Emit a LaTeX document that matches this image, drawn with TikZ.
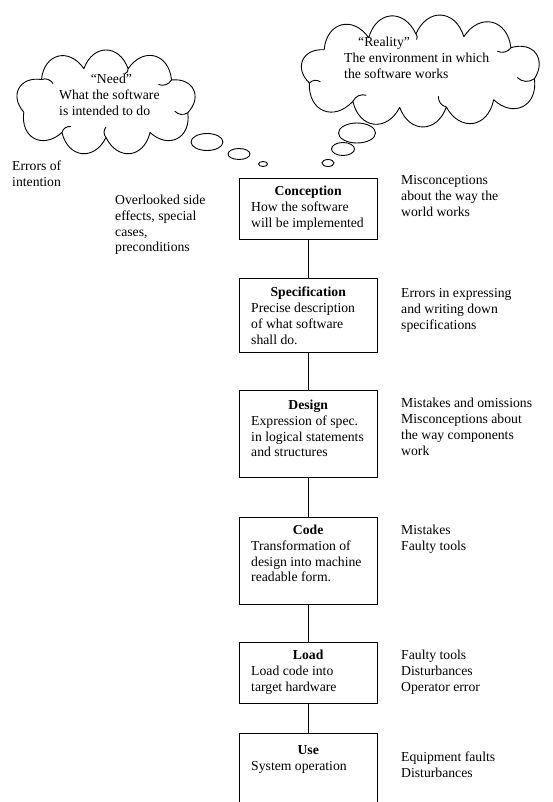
\documentclass[tikz,border=0pt]{standalone}
\usepackage{fontspec}
\setmainfont{Liberation Serif}
\usetikzlibrary{shapes.geometric,calc}
\newcommand\fs{\fontsize{13.7}{15.9}\selectfont}
\begin{document}
\begin{tikzpicture}[x=1pt,y=-1pt,
  stepbox/.style={draw, line width=0.9pt, minimum width=138pt, inner sep=0pt, anchor=north},
  boxtext/.style={font=\fs, align=left, inner sep=0pt, anchor=north west},
  note/.style={font=\fs, align=left, inner sep=0pt, anchor=north west},
  cloudline/.style={line width=0.9pt, line join=round},
  bubble/.style={draw, ellipse, line width=0.9pt, inner sep=0pt},
  link/.style={line width=0.9pt}]
\useasboundingbox (0,0) rectangle (552,802);
\clip (0,0) rectangle (552,802);

% "Need" cloud
\coordinate (NO) at (106,102.5);
\foreach \k/\t in {1/17,2/59,3/90,4/121,5/164,6/221,7/255,8/285,9/320}
  \coordinate (N\k) at ($(NO)+(\t:85.5 and 35)$);
\draw[cloudline] (N1) \foreach \i/\j in {1/2,2/3,3/4,4/5,5/6,6/7,7/8,8/9,9/1}
  { .. controls ($(N\i)!0.6!70:(N\j)$) and ($(N\j)!0.6!-70:(N\i)$) .. (N\j) };
\foreach \k/\f in {1/0.16,3/0.3,4/0.2,6/0.18,8/0.15,9/0.2}
  \draw[cloudline] (N\k) to[bend left=40] ($(N\k)!\f!(NO)$);

% "Reality" cloud
\coordinate (RO) at (420,71);
\foreach \k/\t in {1/12,2/51,3/77,4/100,5/125,6/161,7/215,8/244,9/268,10/292,11/321}
  \coordinate (R\k) at ($(RO)+(\t:117 and 37)$);
\draw[cloudline] (R1) \foreach \i/\j in {1/2,2/3,3/4,4/5,5/6,6/7,7/8,8/9,9/10,10/11,11/1}
  { .. controls ($(R\i)!0.6!70:(R\j)$) and ($(R\j)!0.6!-70:(R\i)$) .. (R\j) };
\foreach \k/\f in {1/0.15,3/0.3,5/0.2,6/0.1,9/0.15,11/0.15}
  \draw[cloudline] (R\k) to[bend left=40] ($(R\k)!\f!(RO)$);

\node[note] (needtext) at (59,72.2) {\strut\hspace*{31.7pt}“Need”\\What the software\\is intended to do};
\node[note] (realtext) at (344,35.6) {\strut\hspace*{14pt}“Reality”\\The environment in which\\the software works};

% thought bubbles
\node[bubble, minimum width=32pt, minimum height=17pt] (nb1) at (207,142) {};
\node[bubble, minimum width=22pt, minimum height=11pt] (nb2) at (239,154) {};
\node[bubble, minimum width=9pt, minimum height=5pt] (nb3) at (263,164) {};
\node[bubble, minimum width=37pt, minimum height=20pt] (rb1) at (357,133) {};
\node[bubble, minimum width=23pt, minimum height=13pt] (rb2) at (343,149) {};
\node[bubble, minimum width=12pt, minimum height=7pt] (rb3) at (328,163) {};

% boxes
\node[stepbox, minimum height=61pt] (conc) at (308,178) {};
\node[stepbox, minimum height=74pt] (spec) at (308,278) {};
\node[stepbox, minimum height=87pt] (design) at (308,390) {};
\node[stepbox, minimum height=87pt] (code) at (308,517) {};
\node[stepbox, minimum height=61pt] (load) at (308,642) {};
\node[stepbox, minimum height=90pt] (use) at (308,733) {};

\node[boxtext] (conct) at (251,183.9) {\strut\makebox[114pt][c]{\textbf{Conception}}\\How the software\\will be implemented};
\node[boxtext] (spect) at (251,285.6) {\strut\makebox[114pt][c]{\textbf{Specification}}\\Precise description\\of what software\\shall do.};
\node[boxtext] (designt) at (251,397.9) {\strut\makebox[114pt][c]{\textbf{Design}}\\Expression of spec.\\in logical statements\\and structures};
\node[boxtext] (codet) at (251,522.9) {\strut\makebox[114pt][c]{\textbf{Code}}\\Transformation of\\design into machine\\readable form.};
\node[boxtext] (loadt) at (251,647.9) {\strut\makebox[114pt][c]{\textbf{Load}}\\Load code into\\target hardware};
\node[boxtext] (uset) at (251,742.9) {\strut\makebox[114pt][c]{\textbf{Use}}\\System operation};

% connectors
\draw[link] (conc.south) -- (spec.north);
\draw[link] (spec.south) -- (design.north);
\draw[link] (design.south) -- (code.north);
\draw[link] (code.south) -- (load.north);
\draw[link] (load.south) -- (use.north);

% error notes
\node[note] (n1) at (401,172.9) {\strut Misconceptions\\about the way the\\world works};
\node[note] (n2) at (401,285.9) {\strut Errors in expressing\\and writing down\\specifications};
\node[note] (n3) at (401,396.6) {\strut Mistakes and omissions\\Misconceptions about\\the way components\\work};
\node[note] (n4) at (401,523.2) {\strut Mistakes\\Faulty tools};
\node[note] (n5) at (401,648.2) {\strut Faulty tools\\Disturbances\\Operator error};
\node[note] (n6) at (401,749.9) {\strut Equipment faults\\Disturbances};
\node[note] (n7) at (12,158.9) {\strut Errors of\\intention};
\node[note] (n8) at (115,192.9) {\strut Overlooked side\\effects, special\\cases,\\preconditions};
\end{tikzpicture}
\end{document}
